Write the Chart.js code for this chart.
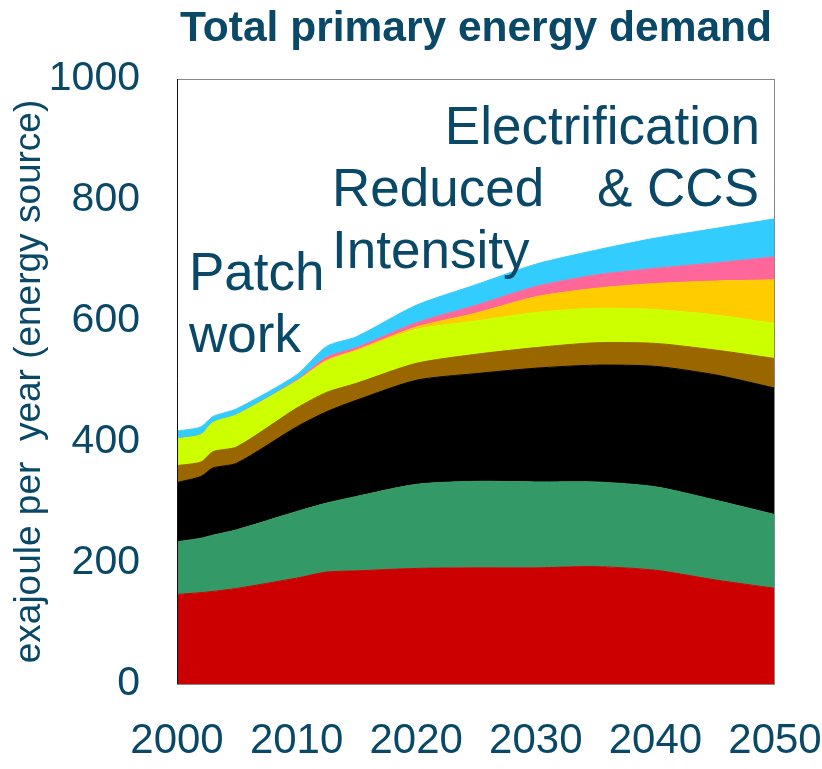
<!DOCTYPE html>
<html>
<head>
<meta charset="utf-8">
<script src="https://cdn.jsdelivr.net/npm/chart.js@4.4.1/dist/chart.umd.min.js"></script>
<style>
    body { margin: 0; background: #fff; }
    #wrap { width: 822px; height: 769px; position: relative; }
</style>
</head>
<body>
<div id="wrap"><canvas id="demandChart"></canvas></div>
<script>
// values, exajoule per year, stacked bottom to top
var years = [2000, 2002, 2003, 2005, 2010, 2012.5, 2015, 2020, 2025, 2030, 2035, 2040, 2045, 2050];
var oil = [148, 151, 153, 158, 175, 185, 187, 191, 192, 192, 194, 188, 172, 158];
var gas = [87, 90, 93, 97, 110, 114, 123, 139, 143, 142, 140, 138, 132, 122];
var coal = [98, 102, 111, 110, 140, 151, 159, 172, 178, 188, 193, 199, 207, 209];
var nuclear = [28, 24, 27, 27, 31, 32, 28, 28, 32, 34, 37, 38, 41, 49];
var biomass = [44, 45, 48, 53, 44, 51, 53, 56, 55, 58, 57, 56, 58, 58];
var solar = [0, 0, 0, 0, 1, 2, 2, 4, 13, 26, 33, 43, 56, 72];
var wind = [0, 0, 0, 0, 1, 5, 4, 7, 13, 17, 22, 25, 30, 38];
var otherRenewables = [13, 13, 10, 10, 9, 18, 18, 29, 34, 37, 41, 50, 57, 63];
var yearTicks = [2000, 2010, 2020, 2030, 2040, 2050];

var textColor = '#0a4868';

function points(values) {
    return values.map(function (v, i) { return { x: years[i], y: v }; });
}

function layer(label, values, color, fill) {
    return {
        label: label,
        data: points(values),
        backgroundColor: color,
        borderColor: color,
        borderWidth: 1,
        pointRadius: 0,
        tension: 0.25,
        fill: fill
    };
}

var frameAndNotes = {
    id: 'frameAndNotes',
    afterDatasetsDraw: function (chart) {
        var ctx = chart.ctx;
        var a = chart.chartArea;
        ctx.save();
        ctx.lineWidth = 1;
        ctx.strokeStyle = '#888';
        ctx.strokeRect(a.left + 0.5, a.top + 0.5, a.right - a.left - 1, a.bottom - a.top);
        ctx.strokeStyle = '#111';
        ctx.beginPath();
        ctx.moveTo(a.left + 0.5, a.top);
        ctx.lineTo(a.left + 0.5, a.bottom);
        ctx.stroke();

        ctx.fillStyle = textColor;
        ctx.font = '53px "Liberation Sans", Arial, sans-serif';
        ctx.textBaseline = 'alphabetic';
        ctx.textAlign = 'left';
        ctx.fillText('Patch', 189, 290);
        ctx.fillText('work', 189, 352);
        ctx.fillText('Reduced', 332, 206);
        ctx.fillText('Intensity', 332, 268);
        ctx.textAlign = 'right';
        ctx.fillText('Electrification', 760, 144);
        ctx.fillText('& CCS', 759, 206);
        ctx.restore();
    }
};

new Chart(document.getElementById('demandChart').getContext('2d'), {
    type: 'line',
    data: {
        datasets: [
            layer('Oil', oil, '#cc0000', 'origin'),
            layer('Natural gas', gas, '#339966', '-1'),
            layer('Coal', coal, '#000000', '-1'),
            layer('Nuclear', nuclear, '#996600', '-1'),
            layer('Biomass', biomass, '#ccff00', '-1'),
            layer('Solar', solar, '#ffcc00', '-1'),
            layer('Wind', wind, '#ff6699', '-1'),
            layer('Other renewables', otherRenewables, '#33ccff', '-1')
        ]
    },
    options: {
        responsive: true,
        maintainAspectRatio: false,
        animation: false,
        layout: { padding: { left: 0, right: 0, top: 0, bottom: 0 } },
        plugins: {
            legend: { display: false },
            tooltip: { enabled: false },
            title: {
                display: true,
                fullSize: false,
                text: 'Total primary energy demand',
                color: textColor,
                font: { family: '"Liberation Sans", Arial, sans-serif', size: 42.5, weight: 'bold' },
                padding: { top: 4, bottom: 24 }
            }
        },
        scales: {
            x: {
                type: 'linear',
                min: 2000,
                max: 2050,
                afterBuildTicks: function (scale) {
                    scale.ticks = yearTicks.map(function (v) { return { value: v }; });
                },
                afterFit: function (scale) {
                    scale.height = 85;
                    scale.paddingLeft = 0;
                    scale.paddingRight = 47;
                },
                grid: { display: false, drawTicks: false },
                border: { display: false },
                ticks: {
                    color: textColor,
                    padding: 32,
                    maxRotation: 0,
                    font: { family: '"Liberation Sans", Arial, sans-serif', size: 42 },
                    callback: function (v) { return String(v); }
                }
            },
            y: {
                stacked: true,
                min: 0,
                max: 1000,
                afterFit: function (scale) { scale.width = 177; },
                grid: { display: false, drawTicks: false },
                border: { display: false },
                ticks: {
                    stepSize: 200,
                    color: textColor,
                    padding: 37,
                    font: { family: '"Liberation Sans", Arial, sans-serif', size: 41 },
                    callback: function (v) { return String(v); }
                },
                title: {
                    display: true,
                    text: 'exajoule per  year (energy source)',
                    color: textColor,
                    padding: { top: 8, bottom: 0 },
                    font: { family: '"Liberation Sans", Arial, sans-serif', size: 37 }
                }
            }
        }
    },
    plugins: [frameAndNotes]
});
</script>
</body>
</html>
